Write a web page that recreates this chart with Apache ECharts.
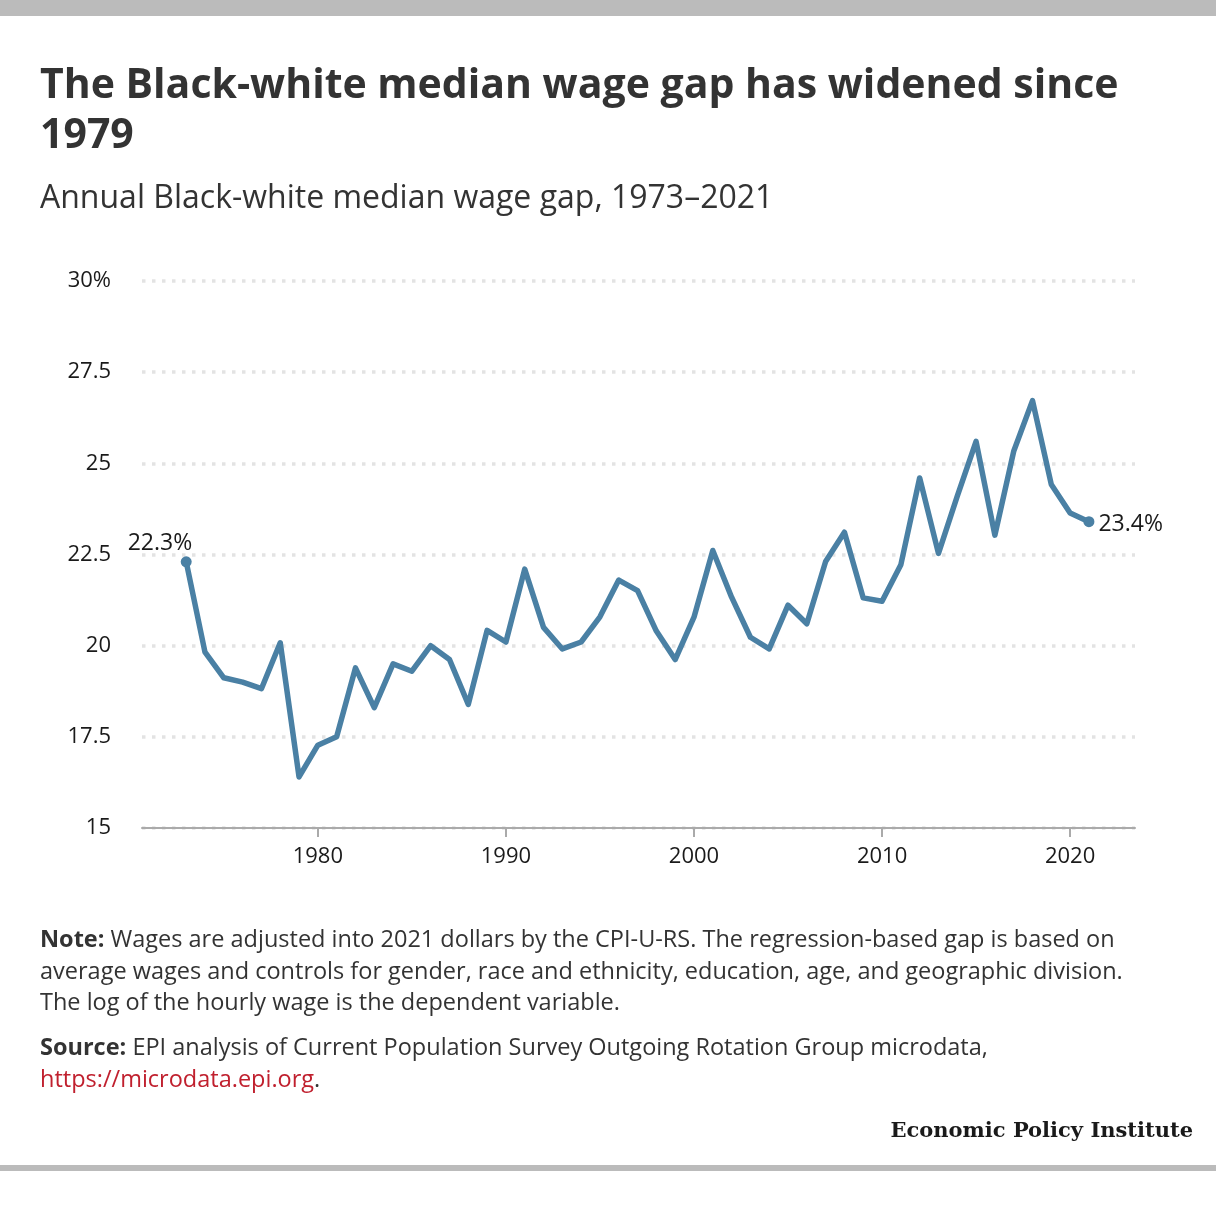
<!DOCTYPE html>
<html>
<head>
<meta charset="utf-8">
<script src="https://cdn.jsdelivr.net/npm/echarts@6/dist/echarts.min.js"></script>
<style>
html,body{margin:0;padding:0;background:#fff;}
#chart{width:1216px;height:1216px;}
</style>
</head>
<body>
<div id="chart"></div>
<script>
const years = [1973,1974,1975,1976,1977,1978,1979,1980,1981,1982,1983,1984,1985,1986,1987,1988,1989,1990,1991,1992,1993,1994,1995,1996,1997,1998,1999,2000,2001,2002,2003,2004,2005,2006,2007,2008,2009,2010,2011,2012,2013,2014,2015,2016,2017,2018,2019,2020,2021];
const gapValues = [22.3,19.82,19.12,19.0,18.82,20.08,16.4,17.27,17.5,19.39,18.3,19.5,19.3,20.0,19.62,18.39,20.42,20.1,22.1,20.5,19.91,20.1,20.79,21.8,21.51,20.4,19.62,20.78,22.61,21.33,20.23,19.91,21.11,20.6,22.31,23.11,21.31,21.22,22.22,24.6,22.53,24.1,25.6,23.03,25.33,26.72,24.42,23.64,23.4];
const xTickYears = [1980,1990,2000,2010,2020];
const yTicks = [15,17.5,20,22.5,25,27.5,30];

const titleText = 'The Black-white median wage gap has widened since\n1979';
const subtitleText = 'Annual Black-white median wage gap, 1973\u20132021';
const noteText = 'Wages are adjusted into 2021 dollars by the CPI-U-RS. The regression-based gap is based on\naverage wages and controls for gender, race and ethnicity, education, age, and geographic division.\nThe log of the hourly wage is the dependent variable.';
const sourceText = 'EPI analysis of Current Population Survey Outgoing Rotation Group microdata,';
const sourceLink = 'https://microdata.epi.org';

const lineColor = '#4a80a4';
const font = '"Open Sans", "Noto Sans", sans-serif';

const seriesData = years.map((y, i) => {
  const item = { value: [y, gapValues[i]] };
  if (i === 0) {
    item.symbolSize = 11;
    item.label = { show: true, position: 'top', align: 'right', offset: [6, 2], distance: 3,
      formatter: (p) => p.value[1].toFixed(1) + '%' };
  } else if (i === years.length - 1) {
    item.symbolSize = 11;
    item.label = { show: true, position: 'right', distance: 4, offset: [0, 3],
      formatter: (p) => p.value[1].toFixed(1) + '%' };
  } else {
    item.symbolSize = 0;
  }
  return item;
});

const chart = echarts.init(document.getElementById('chart'), null, { renderer: 'canvas' });
chart.setOption({
  backgroundColor: '#fff',
  animation: false,
  textStyle: { fontFamily: font },
  grid: { left: 142, right: 81, top: 281, bottom: 388, containLabel: false },
  xAxis: {
    type: 'value',
    min: 1970.65,
    max: 2023.45,
    splitLine: { show: false },
    axisLine: { show: true, lineStyle: { color: '#aaaaaa', width: 2 } },
    axisTick: { show: true, customValues: xTickYears, length: 9, lineStyle: { color: '#aaaaaa', width: 2 } },
    axisLabel: { customValues: xTickYears, margin: 18, fontSize: 22, color: '#1a1a1a', fontFamily: font,
      formatter: (v) => String(v) }
  },
  yAxis: {
    type: 'value',
    min: 15,
    max: 30,
    interval: 2.5,
    axisLine: { show: false },
    axisTick: { show: false },
    axisLabel: { margin: 31, fontSize: 22, color: '#1a1a1a', fontFamily: font,
      formatter: (v) => v === 30 ? '30%' : String(v) },
    splitLine: { show: true, lineStyle: { color: '#e3e3e3', width: 3.5, type: [3.5, 6.5] } }
  },
  series: [{
    type: 'line',
    data: seriesData,
    symbol: 'circle',
    showSymbol: true,
    lineStyle: { color: lineColor, width: 5.5, join: 'round' },
    itemStyle: { color: lineColor },
    label: { fontSize: 23, color: '#1a1a1a', fontFamily: font },
    emphasis: { disabled: true },
    z: 5
  }],
  graphic: [
    { type: 'rect', left: 0, top: 0, shape: { width: 1216, height: 16 }, style: { fill: '#bbbbbb' } },
    { type: 'rect', left: 0, top: 1165, shape: { width: 1216, height: 6 }, style: { fill: '#bbbbbb' } },
    { type: 'text', left: 40, top: 61, style: { text: titleText, font: 'bold 41px ' + font, fill: '#333333', lineHeight: 50 } },
    { type: 'text', left: 40, top: 183, style: { text: subtitleText, font: '32px ' + font, fill: '#333333' } },
    { type: 'text', left: 40, top: 925, style: {
        text: '{b|Note:} ' + noteText,
        font: '23.5px ' + font, fill: '#333333', lineHeight: 31.5,
        rich: { b: { font: 'bold 23.5px ' + font, fill: '#333333', lineHeight: 31.5 } }
      } },
    { type: 'text', left: 40, top: 1033, style: {
        text: '{b|Source:} ' + sourceText + '\n{l|' + sourceLink + '}.',
        font: '23.5px ' + font, fill: '#333333', lineHeight: 31.5,
        rich: { b: { font: 'bold 23.5px ' + font, fill: '#333333', lineHeight: 31.5 },
                l: { font: '23.5px ' + font, fill: '#c0202e', lineHeight: 31.5 } }
      } },
    { type: 'text', right: 23, top: 1121, style: { text: 'Economic Policy Institute', font: 'bold 21px "DejaVu Serif", serif', fill: '#1a1a1a' } }
  ]
});
</script>
</body>
</html>
